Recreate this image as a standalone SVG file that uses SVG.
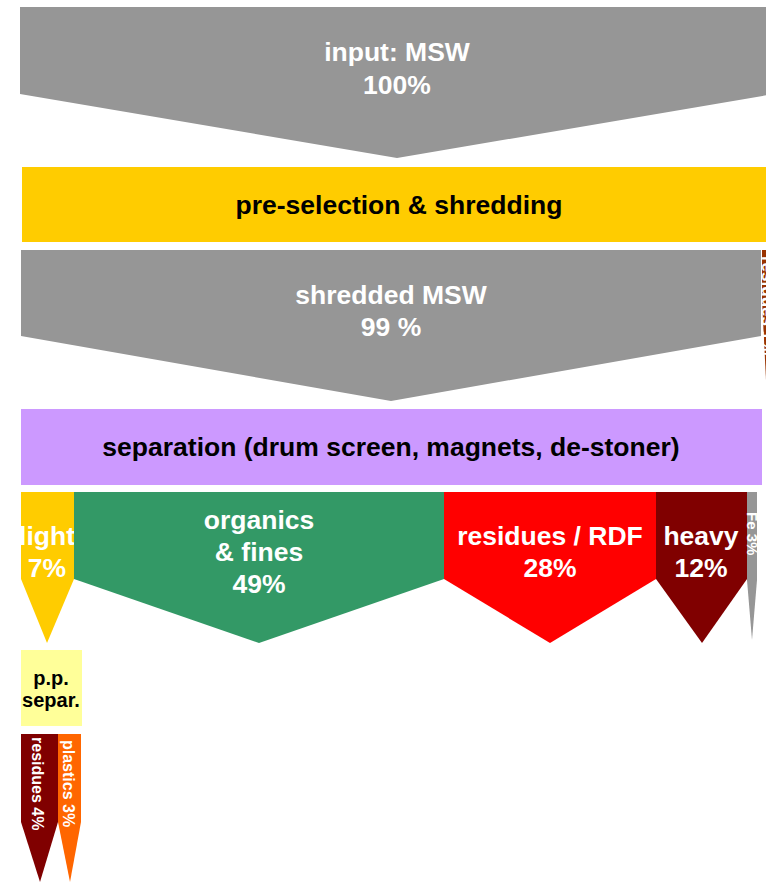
<svg xmlns="http://www.w3.org/2000/svg" width="766" height="883" viewBox="0 0 766 883">
<style>
text{font-family:"Liberation Sans",Arial,Helvetica,sans-serif;font-weight:bold;}
.w{fill:#ffffff;}
.k{fill:#000000;}
.c{text-anchor:middle;}
.big{font-size:26.5px;}
</style>
<rect width="766" height="883" fill="#ffffff"/>
<g id="input">
<polygon points="20,7 774,7 774,94 397,158 20,94" fill="#969696"/>
<text class="w c big" x="397" y="61">input: MSW</text>
<text class="w c big" x="397" y="94">100%</text>
</g>
<g id="preselection">
<rect x="22" y="167" width="750" height="75" fill="#ffcc00"/>
<text class="k c big" x="399" y="214">pre-selection &amp; shredding</text>
</g>
<g id="shredded">
<polygon points="21,250 761,250 761,336 391,401 21,336" fill="#969696"/>
<text class="w c big" x="391" y="304">shredded MSW</text>
<text class="w c big" x="391" y="336">99 %</text>
</g>
<g id="residues1">
<polygon points="762,250 772,250 772,300 766,380 762,300" fill="#993300"/>
<text class="w" style="font-size:17px" transform="translate(762,256) rotate(90)">residues 1%</text>
</g>
<g id="separation">
<rect x="21" y="409" width="741" height="76" fill="#cc99ff"/>
<text class="k c big" x="391" y="456">separation (drum screen, magnets, de-stoner)</text>
</g>
<g id="light">
<polygon points="21,492 74,492 74,579 47,643 21,579" fill="#ffcc00"/>
<text class="w c big" x="47" y="545">light</text>
<text class="w c big" x="47" y="577">7%</text>
</g>
<g id="organics">
<polygon points="74,492 444,492 444,579 259,643 74,579" fill="#339966"/>
<text class="w c big" x="259" y="529">organics</text>
<text class="w c big" x="259" y="561">&amp; fines</text>
<text class="w c big" x="259" y="593">49%</text>
</g>
<g id="rdf">
<polygon points="444,492 656,492 656,579 550,643 444,579" fill="#ff0000"/>
<text class="w c big" x="550" y="545">residues / RDF</text>
<text class="w c big" x="550" y="577">28%</text>
</g>
<g id="heavy">
<polygon points="656,492 747,492 747,579 702,643 656,579" fill="#800000"/>
<text class="w c big" x="701" y="545">heavy</text>
<text class="w c big" x="701" y="577">12%</text>
</g>
<g id="fe">
<polygon points="747,492 757,492 757,580 752,640 747,580" fill="#969696"/>
<text class="w" style="font-size:15px" transform="translate(747,512) rotate(90)">Fe 3%</text>
</g>
<g id="ppsepar">
<rect x="21" y="650" width="61" height="76" fill="#ffff99"/>
<text class="k c" style="font-size:20px" x="51" y="685">p.p.</text>
<text class="k c" style="font-size:20px" x="51" y="707">separ.</text>
</g>
<g id="residues4">
<polygon points="21,734 58,734 58,822 40,882 21,822" fill="#800000"/>
<text class="w" style="font-size:16px" transform="translate(32,737) rotate(90)">residues 4%</text>
</g>
<g id="plastics3">
<polygon points="58,734 81,734 81,822 70,882 58,822" fill="#ff6600"/>
<text class="w" style="font-size:16px" transform="translate(63,740) rotate(90)">plastics 3%</text>
</g>
<g id="connectors"/>
</svg>
